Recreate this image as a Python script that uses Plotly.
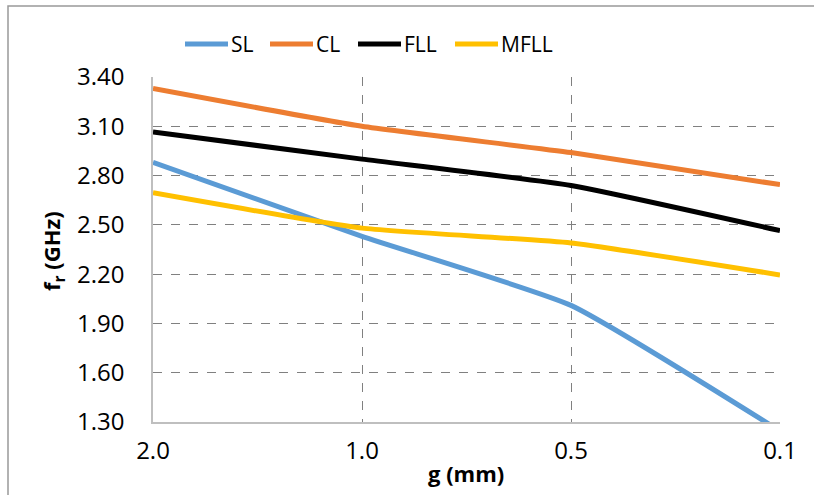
import plotly.graph_objects as go

categories = ["2.0", "1.0", "0.5", "0.1"]
sl = [2.88, 2.43, 2.01, 1.245]
cl = [3.33, 3.10, 2.94, 2.745]
fll = [3.065, 2.90, 2.74, 2.465]
mfll = [2.695, 2.48, 2.39, 2.195]
y_ticks = [1.30, 1.60, 1.90, 2.20, 2.50, 2.80, 3.10, 3.40]

series_names = ["SL", "CL", "FLL", "MFLL"]
series_colors = ["#5B9BD5", "#ED7D31", "#000000", "#FFC000"]
series_values = [sl, cl, fll, mfll]

W, H = 814, 495
L, R, T, B = 153, 34, 77, 73
pw, ph = W - L - R, H - T - B

def px_x(p):
    return (p - L) / pw

def px_y(p):
    return (H - B - p) / ph

xpos = list(range(len(categories)))
fig = go.Figure()
for name, vals, col in zip(series_names, series_values, series_colors):
    fig.add_trace(go.Scatter(x=xpos, y=vals, name=name, mode="lines",
                             line=dict(color=col, width=5, shape="spline", smoothing=0.45)))

# manual legend (swatch lines + real text)
legend_swatch_x = [185, 270, 358, 455]
legend_y = 44
shapes = [
    dict(type="rect", xref="paper", yref="paper", x0=px_x(8), y0=px_y(520),
         x1=px_x(840), y1=px_y(6), line=dict(color="#999999", width=1.5),
         fillcolor="rgba(0,0,0,0)", layer="below"),
]
annotations = [
    dict(text="g (mm)", xref="paper", yref="paper", x=px_x(466), y=px_y(473),
         xanchor="center", yanchor="middle", showarrow=False,
         font=dict(size=22, family="Open Sans", color="#000000", weight="bold")),
    dict(text="f<sub>r</sub> (GHz)", xref="paper", yref="paper", x=px_x(53), y=px_y(251),
         xanchor="center", yanchor="middle", showarrow=False, textangle=-90,
         font=dict(size=22, family="Open Sans", color="#000000", weight="bold")),
]
for name, col, sx in zip(series_names, series_colors, legend_swatch_x):
    shapes.append(dict(type="line", xref="paper", yref="paper",
                       x0=px_x(sx), x1=px_x(sx + 43), y0=px_y(legend_y), y1=px_y(legend_y),
                       line=dict(color=col, width=5)))
    annotations.append(dict(text=name, xref="paper", yref="paper",
                            x=px_x(sx + 44), y=px_y(legend_y), xanchor="left", yanchor="middle",
                            showarrow=False,
                            font=dict(size=21, family="Open Sans", color="#000000")))

fig.update_layout(
    width=W, height=H,
    margin=dict(l=L, r=R, t=T, b=B, pad=0),
    paper_bgcolor="white", plot_bgcolor="white",
    font=dict(family="Open Sans", color="#000000"),
    showlegend=False,
    xaxis=dict(range=[0, 3], tickvals=xpos, ticktext=categories,
               showgrid=True, gridcolor="#808080", griddash="dash", gridwidth=1,
               showline=True, linecolor="#BFBFBF", linewidth=1.5,
               zeroline=False, ticks="", tickfont=dict(size=24, family="Open Sans"),
               ticklabelstandoff=6, fixedrange=True),
    yaxis=dict(range=[1.30, 3.40], tickvals=y_ticks, ticktext=[f"{v:.2f}" for v in y_ticks],
               showgrid=True, gridcolor="#808080", griddash="dash", gridwidth=1,
               showline=True, linecolor="#BFBFBF", linewidth=1.5,
               zeroline=False, ticks="", tickfont=dict(size=24, family="Open Sans"),
               ticklabelstandoff=22, fixedrange=True),
    annotations=annotations,
    shapes=shapes,
)

fig.write_html("out.html")
